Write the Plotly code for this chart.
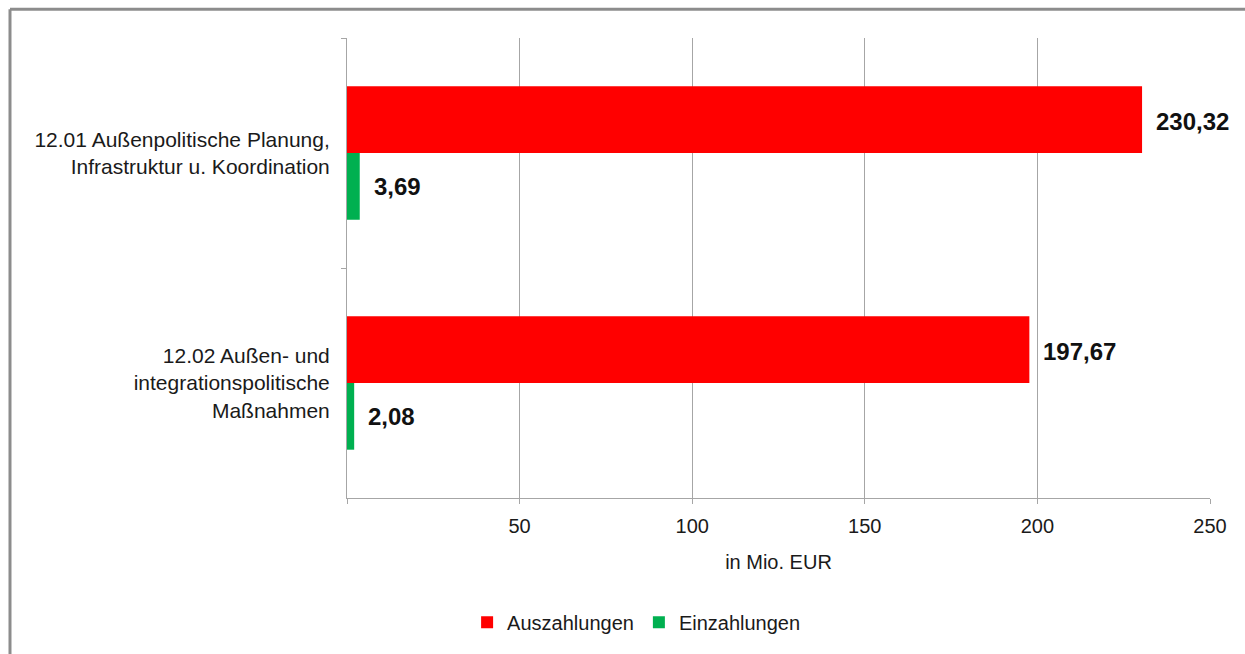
import plotly.graph_objects as go

categories = ["12.01 Außenpolitische Planung,<br>Infrastruktur u. Koordination",
              "12.02 Außen- und<br>integrationspolitische<br>Maßnahmen"]
auszahlungen = [230.32, 197.67]
einzahlungen = [3.69, 2.08]
series_names = ["Auszahlungen", "Einzahlungen"]
colors = ["#FF0000", "#00B050"]
xtick_vals = [0, 50, 100, 150, 200, 250]
xtick_text = ["", "50", "100", "150", "200", "250"]

FONT = "Liberation Sans, Arial, sans-serif"
TXT = "#1a1a1a"

fig = go.Figure()
for name, vals, col in zip(series_names, [auszahlungen, einzahlungen], colors):
    fig.add_trace(go.Bar(
        y=categories, x=vals, name=name, orientation="h",
        marker=dict(color=col, line=dict(width=0)),
    ))

# value labels
def fmt(v):
    return f"{v:.2f}".replace(".", ",")

for vals, ysh in [(auszahlungen, 32), (einzahlungen, -33)]:
    for cat, v in zip(categories, vals):
        fig.add_annotation(
            x=v, y=cat, xref="x", yref="y", text=f"<b>{fmt(v)}</b>",
            showarrow=False, xanchor="left", yanchor="middle",
            xshift=12, yshift=ysh,
            font=dict(family=FONT, size=24, color="#111111"),
        )

# outer chart border (left and top visible)
fig.add_shape(type="line", xref="paper", yref="paper",
              x0=-0.3905, x1=-0.3905, y0=1.0625, y1=-0.35,
              line=dict(color="#8c8c8c", width=3))
fig.add_shape(type="line", xref="paper", yref="paper",
              x0=-0.3905, x1=1.05, y0=1.0625, y1=1.0625,
              line=dict(color="#8c8c8c", width=3))

fig.update_layout(
    width=1245, height=654,
    margin=dict(l=347, r=35, t=38, b=150),
    paper_bgcolor="white", plot_bgcolor="white",
    barmode="group", bargap=0.42, bargroupgap=0,
    font=dict(family=FONT, size=20, color=TXT),
    showlegend=True,
    legend=dict(orientation="h", x=0.335, xanchor="center", y=-0.27, yanchor="middle",
                font=dict(family=FONT, size=20, color=TXT),
                itemwidth=30, traceorder="normal"),
    xaxis=dict(range=[0, 250], tickvals=xtick_vals, ticktext=xtick_text,
               showgrid=True, gridcolor="#a6a6a6", gridwidth=1,
               zeroline=False, showline=True, linecolor="#a6a6a6", linewidth=1,
               ticks="outside", ticklen=5, tickcolor="#a6a6a6",
               ticklabelstandoff=5,
               tickfont=dict(family=FONT, size=20, color=TXT),
               title=dict(text="in Mio. EUR", standoff=18,
                          font=dict(family=FONT, size=20, color=TXT))),
    yaxis=dict(autorange="reversed", type="category",
               showline=True, linecolor="#a6a6a6", linewidth=1,
               ticks="outside", ticklen=5, tickcolor="#a6a6a6", tickson="boundaries",
               showgrid=False,
               tickfont=dict(family=FONT, size=21, color=TXT),
               ticklabelstandoff=12),
)

fig.write_html("out.html")
